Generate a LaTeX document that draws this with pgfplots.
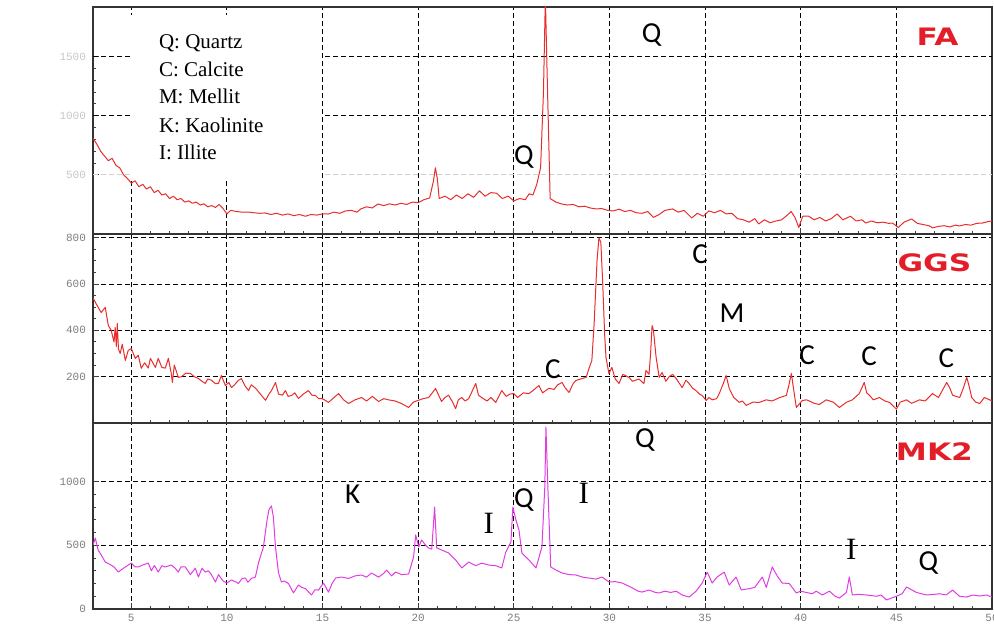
\documentclass[border=0pt]{standalone}
\usepackage{fontspec}
\setmainfont{Liberation Serif}
\newfontfamily\calib{Carlito}
\newfontfamily\monof{Liberation Mono}
\newfontfamily\heavy{DejaVu Sans}
\usepackage{pgfplots}
\pgfplotsset{compat=1.18}

\definecolor{labred}{RGB}{228,30,40}
\definecolor{tracered}{RGB}{232,45,45}
\definecolor{tracemag}{RGB}{225,60,225}
\definecolor{tickgray}{RGB}{125,125,125}

\pgfplotsset{
  xrd/.style={
    scale only axis, width=449.5pt,
    xmin=3, xmax=50,
    xtick={5,10,...,50},
    minor x tick num=4,
    xtick pos=bottom, ytick pos=left,
    grid=major,
    major grid style={black, line width=0.5pt, dash pattern=on 2.5pt off 1.5pt},
    axis line style={line width=1pt, black!80},
    tick style={black!75, line width=0.5pt},
    major tick length=3pt, minor tick length=1.5pt,
    tick align=inside,
    /pgf/number format/assume math mode=true,
    /pgf/number format/1000 sep={},
    tick label style={font=\monof\fontsize{5.5}{6}\selectfont, text=tickgray},
    xticklabel style={yshift=1pt},
    anchor=south west,
  },
  trace/.style={line width=0.5pt, line join=round, mark=none},
}
\tikzset{
  pk/.style={font=\calib\fontsize{14.5}{15}\selectfont},
  pki/.style={font=\fontsize{15.5}{16}\selectfont},
  panel/.style={font=\heavy\bfseries\fontsize{12}{12}\selectfont, text=labred, xscale=1.3},
  legtxt/.style={anchor=base west, font=\fontsize{10.5}{12}\selectfont},
}

\begin{document}
\begin{tikzpicture}
\path[use as bounding box] (0,0) rectangle (497pt,316.5pt);

% ---------- FA ----------
\begin{axis}[xrd, at={(46.5pt,199.5pt)}, height=113.5pt,
  ymin=0, ymax=1920, ytick={500,1000,1500}, minor y tick num=4,
  ymajorgrids=false, xticklabel=\empty,
  yticklabel style={text=black!22}]
\draw[gray!35, line width=0.5pt, dash pattern=on 2.5pt off 1.5pt] (axis cs:3,500) -- (axis cs:50,500);
\draw[black, line width=0.5pt, dash pattern=on 2.5pt off 1.5pt] (axis cs:3,1000) -- (axis cs:50,1000);
\draw[black, line width=0.5pt, dash pattern=on 2.5pt off 1.5pt] (axis cs:3,1500) -- (axis cs:50,1500);
\addplot[trace, tracered] coordinates {
(3.0,810)(3.2,760)(3.4,700)(3.6,660)(3.8,620)(4.0,640)(4.2,580)(4.4,560)(4.6,500)(4.8,470)
(5.0,430)(5.2,450)(5.4,400)(5.6,420)(5.8,380)(6.0,400)(6.2,350)(6.4,370)(6.6,330)(6.8,340)
(7.0,300)(7.2,320)(7.4,290)(7.6,300)(7.8,270)(8.0,280)(8.2,260)(8.4,270)(8.6,245)(8.8,255)
(9.0,230)(9.2,240)(9.4,225)(9.6,250)(9.8,215)(10.0,170)(10.2,200)(10.5,190)(10.8,185)(11.1,186)
(11.4,180)(11.7,175)(12.0,178)(12.3,165)(12.6,175)(12.9,160)(13.2,170)(13.5,155)(13.8,165)(14.1,150)
(14.4,165)(14.7,160)(15.0,170)(15.3,169)(15.6,185)(15.9,175)(16.2,195)(16.5,200)(16.8,185)(17.0,212)
(17.3,230)(17.6,220)(17.9,254)(18.2,240)(18.5,255)(18.8,245)(19.1,260)(19.4,250)(19.7,270)(20.0,265)
(20.3,290)(20.6,305)(20.8,450)(20.9,560)(21.0,470)(21.1,300)(21.4,320)(21.7,290)(22.0,330)(22.3,300)
(22.6,340)(22.9,310)(23.2,365)(23.5,320)(23.8,350)(24.1,345)(24.4,300)(24.7,320)(25.0,280)(25.3,300)
(25.6,290)(25.8,340)(26.0,330)(26.2,420)(26.4,560)(26.55,1200)(26.65,2000)(26.75,1300)(26.9,300)(27.2,270)
(27.5,254)(27.8,245)(28.1,250)(28.4,230)(28.7,235)(29.0,220)(29.3,212)(29.6,215)(29.9,200)(30.2,195)
(30.5,210)(30.8,190)(31.1,200)(31.4,180)(31.7,175)(32.0,190)(32.3,140)(32.6,165)(32.9,200)(33.3,212)
(33.6,185)(33.9,200)(34.3,136)(34.6,175)(34.9,150)(35.2,195)(35.5,180)(35.8,200)(36.1,170)(36.4,175)
(36.7,130)(37.0,120)(37.3,100)(37.6,130)(37.8,85)(38.1,120)(38.4,95)(38.7,110)(39.0,120)(39.3,160)
(39.5,190)(39.7,140)(39.9,55)(40.1,150)(40.4,152)(40.7,120)(41.0,140)(41.3,110)(41.6,130)(41.9,170)
(42.2,120)(42.6,150)(42.9,110)(43.2,120)(43.4,93)(43.7,110)(44.0,95)(44.3,100)(44.6,90)(44.8,93)
(45.1,55)(45.4,100)(45.8,127)(46.1,90)(46.4,80)(46.7,70)(46.9,52)(47.2,65)(47.5,70)(47.8,60)
(48.1,75)(48.3,68)(48.6,80)(48.9,75)(49.2,90)(49.5,93)(49.8,105)(50.0,110)
};
\fill[white] (rel axis cs:0.042,0.965) rectangle (rel axis cs:0.255,0.238);
\node[legtxt] at (rel axis cs:0.0656,0.819) {Q: Quartz};
\node[legtxt] at (rel axis cs:0.0656,0.696) {C: Calcite};
\node[legtxt] at (rel axis cs:0.0656,0.577) {M: Mellit};
\node[legtxt] at (rel axis cs:0.0656,0.449) {K: Kaolinite};
\node[legtxt] at (rel axis cs:0.0656,0.326) {I: Illite};
\node[pk] at (axis cs:32.2,1686) {Q};
\node[pk] at (axis cs:25.52,652) {Q};
\node[panel] at (axis cs:47.15,1669) {FA};
\node[rotate=90, font=\monof\fontsize{5.5}{6}\selectfont, text=black!30] at (rel axis cs:-0.0868,0.678) {I (CPS)};
\end{axis}

% ---------- GGS ----------
\begin{axis}[xrd, at={(46.5pt,105pt)}, height=94.5pt,
  ymin=0, ymax=816, ytick={200,400,600,800}, minor y tick num=3,
  xticklabel=\empty]
\addplot[trace, tracered] coordinates {
(3.0,540)(3.27,499)(3.43,477)(3.64,499)(3.80,421)(3.95,400)(4.10,350)(4.16,413)(4.22,330)(4.27,430)
(4.33,320)(4.42,300)(4.53,340)(4.69,270)(4.84,313)(5.0,322)(5.21,279)(5.37,292)(5.52,236)(5.7,260)
(5.89,237)(6.0,279)(6.26,240)(6.41,279)(6.6,240)(6.78,237)(6.94,279)(7.09,214)(7.15,175)(7.25,250)
(7.46,197)(7.62,200)(7.85,215)(8.09,214)(8.3,200)(8.51,192)(8.7,180)(8.87,171)(9.0,190)(9.19,185)
(9.4,170)(9.56,171)(9.71,205)(9.92,162)(10.1,175)(10.24,153)(10.4,165)(10.60,184)(10.76,192)(10.95,160)
(11.13,140)(11.28,165)(11.5,150)(11.81,119)(12.02,98)(12.2,125)(12.33,140)(12.54,175)(12.70,125)(12.9,120)
(13.06,140)(13.2,115)(13.38,119)(13.55,130)(13.74,106)(14.0,125)(14.26,140)(14.45,120)(14.63,119)(14.8,105)
(14.95,106)(15.1,100)(15.31,89)(15.6,110)(15.84,127)(16.1,100)(16.36,84)(16.7,100)(17.04,110)(17.3,95)
(17.6,115)(17.93,93)(18.2,105)(18.45,100)(18.8,95)(19.13,84)(19.50,67)(19.75,90)(19.97,97)(20.25,105)
(20.55,110)(20.91,149)(21.22,93)(21.4,110)(21.59,120)(21.8,90)(21.96,62)(22.1,100)(22.27,110)(22.45,95)
(22.64,105)(23.01,171)(23.15,120)(23.32,110)(23.6,95)(23.8,110)(24.06,89)(24.37,140)(24.6,115)(24.8,125)
(25.0,127)(25.2,110)(25.5,130)(25.79,127)(26.0,140)(26.31,162)(26.5,130)(26.84,150)(27.1,145)(27.3,165)
(27.52,175)(27.7,150)(27.89,132)(28.1,170)(28.25,184)(28.5,190)(28.78,197)(28.95,240)(29.08,270)(29.2,430)
(29.35,700)(29.45,800)(29.55,780)(29.65,600)(29.75,380)(29.82,283)(29.97,214)(30.13,240)(30.3,190)(30.50,171)
(30.7,210)(31.02,197)(31.2,180)(31.54,190)(31.8,170)(31.91,227)(32.07,210)(32.15,300)(32.23,421)(32.3,400)
(32.44,283)(32.6,197)(32.75,218)(32.95,180)(33.12,200)(33.3,210)(33.49,192)(33.8,153)(34.0,185)(34.17,170)
(34.35,150)(34.53,140)(34.7,125)(34.85,119)(35.06,97)(35.2,110)(35.37,100)(35.6,105)(35.74,127)(35.95,170)
(36.10,205)(36.26,150)(36.5,110)(36.79,89)(36.95,95)(37.15,76)(37.5,90)(37.83,89)(38.2,100)(38.51,95)
(38.9,110)(39.25,119)(39.4,170)(39.51,214)(39.62,150)(39.77,67)(40.08,97)(40.3,100)(40.45,95)(40.7,85)
(40.97,80)(41.34,100)(41.7,90)(42.02,67)(42.4,90)(42.70,100)(43.06,127)(43.32,175)(43.45,130)(43.59,120)
(43.8,100)(44.11,110)(44.4,95)(44.64,89)(45.0,60)(45.2,90)(45.53,100)(45.8,85)(46.21,100)(46.5,95)
(46.89,127)(47.2,110)(47.4,140)(47.63,175)(47.8,150)(47.94,120)(48.31,110)(48.5,150)(48.68,197)(48.8,160)
(48.94,110)(49.15,90)(49.36,84)(49.6,110)(49.88,100)(50.0,95)
};
\node[pk] at (axis cs:34.74,730) {C};
\node[pk] at (axis cs:36.41,475) {M};
\node[pk] at (axis cs:40.33,294) {C};
\node[pk] at (axis cs:43.58,289) {C};
\node[pk] at (axis cs:47.61,281) {C};
\node[pk] at (axis cs:27.04,233) {C};
\node[panel] at (axis cs:46.99,691) {GGS};
\end{axis}

% ---------- MK2 ----------
\begin{axis}[xrd, at={(46.5pt,12pt)}, height=93pt,
  ymin=0, ymax=1460, ytick={0,500,1000}, minor y tick num=4]
\addplot[trace, tracemag] coordinates {
(3.0,502)(3.12,557)(3.27,463)(3.43,424)(3.64,369)(3.95,345)(4.1,330)(4.32,290)(4.5,310)(4.69,330)
(5.0,361)(5.2,330)(5.37,330)(5.6,345)(5.89,361)(6.05,300)(6.2,340)(6.26,330)(6.41,290)(6.6,340)
(6.78,330)(7.09,345)(7.3,320)(7.46,290)(7.6,330)(7.83,330)(8.09,270)(8.35,320)(8.51,251)(8.7,320)
(8.87,290)(9.03,300)(9.19,270)(9.40,212)(9.56,270)(9.8,220)(10.0,204)(10.24,228)(10.5,210)(10.6,200)
(10.8,240)(10.97,243)(11.1,210)(11.28,240)(11.49,251)(11.65,361)(11.91,487)(12.1,700)(12.2,780)(12.33,809)
(12.43,722)(12.54,487)(12.70,283)(12.85,212)(13.0,220)(13.22,200)(13.48,126)(13.74,188)(13.9,170)(14.11,160)
(14.42,110)(14.6,150)(14.79,149)(15.05,204)(15.31,133)(15.5,200)(15.68,243)(15.99,251)(16.36,240)(16.7,260)
(17.04,267)(17.3,250)(17.56,283)(17.93,250)(18.2,280)(18.35,306)(18.61,260)(18.82,290)(19.13,270)(19.5,275)
(19.76,408)(19.87,581)(20.03,487)(20.18,542)(20.39,500)(20.55,479)(20.71,470)(20.86,801)(20.97,479)(21.23,463)
(21.59,440)(21.96,385)(22.28,322)(22.64,369)(23.01,340)(23.32,360)(23.69,345)(24.06,340)(24.37,322)(24.58,447)
(24.85,526)(24.95,801)(25.11,699)(25.27,620)(25.42,440)(25.79,385)(26.16,322)(26.47,487)(26.62,958)(26.68,1429)
(26.78,958)(26.93,330)(27.20,306)(27.52,283)(27.89,270)(28.25,267)(28.6,250)(28.93,243)(29.3,235)(29.61,251)
(29.98,212)(30.3,215)(30.66,204)(31.0,180)(31.2,165)(31.5,140)(31.70,133)(32.07,149)(32.4,130)(32.6,126)
(32.9,140)(33.2,130)(33.49,140)(33.8,110)(34.17,94)(34.53,140)(34.85,204)(35.11,290)(35.37,204)(35.63,251)
(36.0,290)(36.26,188)(36.62,251)(36.89,149)(37.31,160)(37.6,170)(37.99,251)(38.2,170)(38.51,330)(38.77,260)
(39.03,204)(39.40,200)(39.77,126)(40.0,140)(40.29,130)(40.6,120)(40.81,140)(41.13,110)(41.50,140)(41.8,100)
(42.02,86)(42.39,130)(42.54,251)(42.70,110)(43.0,115)(43.44,110)(43.96,100)(44.2,110)(44.48,71)(45.0,100)
(45.3,120)(45.53,173)(46.05,130)(46.57,110)(47.0,115)(47.25,120)(47.6,110)(47.94,149)(48.3,100)(48.67,94)
(49.0,110)(49.35,102)(49.7,110)(50.0,94)
};
\node[pk] at (axis cs:31.85,1327) {Q};
\node[pk] at (axis cs:16.57,903) {K};
\node[pki] at (axis cs:28.66,911) {I};
\node[pk] at (axis cs:25.52,856) {Q};
\node[pki] at (axis cs:23.69,675) {I};
\node[pki] at (axis cs:42.64,471) {I};
\node[pk] at (axis cs:46.67,361) {Q};
\node[panel] at (axis cs:46.99,1232) {MK2};
\node[rotate=90, font=\monof\fontsize{5.5}{6}\selectfont, text=black!45] at (rel axis cs:-0.0868,0.828) {I (CPS)};
\node[anchor=north east, inner sep=0pt, font=\monof\fontsize{5.7}{6}\selectfont, text=tickgray] at (rel axis cs:1.0,-0.078) {Theta-2Theta (deg)};
\end{axis}
\end{tikzpicture}
\end{document}
